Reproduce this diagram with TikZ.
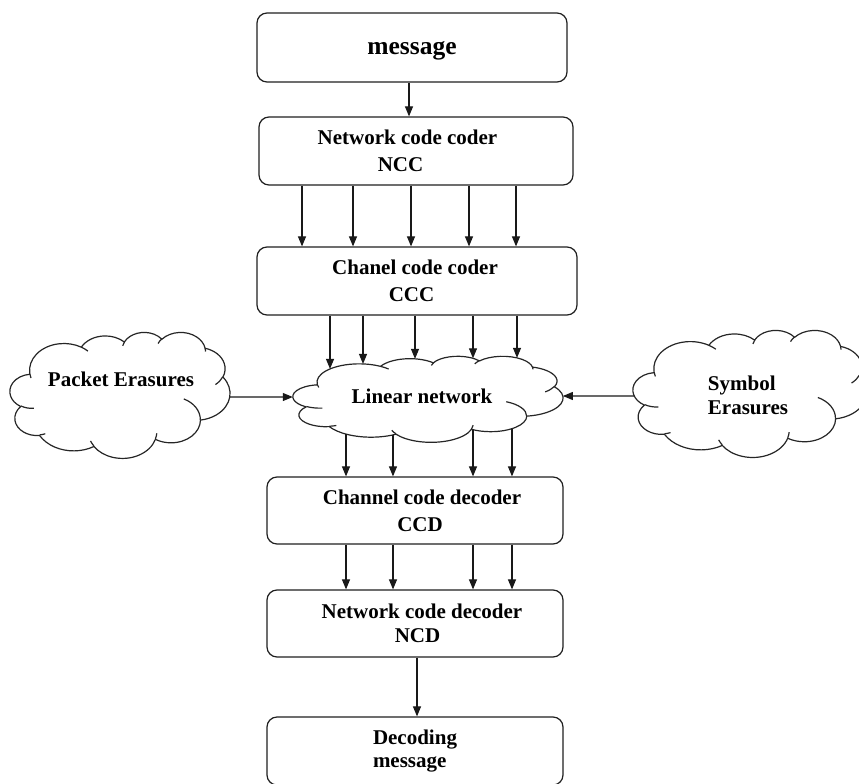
\documentclass[tikz,border=0pt]{standalone}
\usepackage{fontspec}
\setmainfont{Liberation Serif}
\usetikzlibrary{arrows.meta,intersections}

% one arc of an office-style cloud (radii, visual start angle, sweep)
\newcommand\carc[4]{arc[x radius=#1, y radius=#2,
  start angle={atan2((#1)*sin(#3),(#2)*cos(#3))},
  delta angle={mod(atan2((#1)*sin((#3)+(#4)),(#2)*cos((#3)+(#4)))-atan2((#1)*sin(#3),(#2)*cos(#3))+720,360)}]}

\newcommand\cloudoutline{(390.0,1437.0)
  \carc{675.3}{919.0}{-190.4875}{123.7805}
  \carc{533.3}{726.7}{-144.1024}{89.9452}
  \carc{436.5}{594.5}{-145.8079}{99.7230}
  \carc{485.7}{659.5}{-130.9861}{117.2417}
  \carc{533.3}{727.3}{-78.7089}{109.0269}
  \carc{677.5}{922.0}{-46.2673}{130.2690}
  \carc{578.5}{786.7}{0.6250}{114.0333}
  \carc{675.2}{921.5}{22.4516}{115.1726}
  \carc{772.0}{1054.3}{66.2426}{75.7110}
  \carc{436.0}{591.8}{-274.9421}{146.7356}
  \carc{434.5}{594.5}{-246.8285}{152.5189} -- cycle}

\newcommand\cloudinner{
  (469.3,2617.7) \carc{434.5}{594.5}{86.742}{26.4295}
  (692.8,3489.9) \carc{436.0}{591.8}{73.6105}{11.4475}
  (1647.8,3909.0) \carc{675.2}{921.5}{137.6242}{14.0811}
  (2882.7,3475.1) \carc{675.2}{921.5}{6.4533}{15.9984}
  (3412.9,2295.4) \carc{578.5}{786.7}{-70.2924}{70.9174}
  (4179.8,1535.4) \carc{533.3}{727.3}{30.3180}{27.7515}
  (3832.4,542.6) \carc{485.7}{659.5}{-13.7443}{14.8604}
  (2907.8,395.2) \carc{485.7}{659.5}{-149.1815}{18.1959}
  (2214.1,472.0) \carc{436.5}{594.5}{-163.4943}{17.6881}
  (1400.0,519.2) \carc{675.3}{919.0}{-66.7070}{12.3194}
  (412.7,1578.9) \carc{675.3}{919.0}{157.6544}{11.8582}}

\begin{document}
\begin{tikzpicture}[x=1pt,y=-1pt,
  line/.style={draw=black!88, line width=1.2pt},
  box/.style={line, rounded corners=10pt, inner sep=0pt, align=center,
    font=\bfseries\fontsize{21}{27}\selectfont},
  cloudline/.style={draw=black!85, line width=1.2pt, line join=round},
  cloudtext/.style={inner sep=0pt, font=\bfseries\fontsize{21}{24}\selectfont},
  arr/.style={draw=black!90, line width=1.1pt, -{Triangle[length=10pt,width=8pt]}}]
\useasboundingbox (0,0) rectangle (859,784);
\clip (0,0) rectangle (859,784);

% ---------- clouds ----------
\begin{scope}[shift={(10,332)}, x=0.050926pt, y=-0.029167pt]
  \draw[cloudline, fill=white, name path global=pec] \cloudoutline;
  \draw[cloudline] \cloudinner;
\end{scope}
\begin{scope}[shift={(293,356)}, x=0.0625pt, y=-0.019907pt]
  \draw[cloudline, fill=white, name path global=lnc] \cloudoutline;
  \draw[cloudline] \cloudinner;
\end{scope}
\begin{scope}[shift={(633,330)}, x=0.054167pt, y=-0.029398pt]
  \draw[cloudline, fill=white, name path global=sec] \cloudoutline;
  \draw[cloudline] \cloudinner;
\end{scope}

\node[cloudtext] (pe) at (121,379) {Packet Erasures};
\node[cloudtext] (ln) at (422,396) {Linear network};
\node[cloudtext, align=left] (se) at (748,395) {Symbol\\Erasures};

% ---------- boxes ----------
\node[box, minimum width=310, minimum height=69, text depth=0pt,
  font=\bfseries\fontsize{25.5}{30}\selectfont] (msg) at (412,47.5) {message};
\node[box, minimum width=314, minimum height=68] (ncc) at (416,151)
  {\hbox{Network code coder\kern17pt}\\\hbox{NCC\kern31pt}};
\node[box, minimum width=320, minimum height=68] (ccc) at (417,281)
  {\hbox{Chanel code coder\kern4pt}\\\hbox{CCC\kern11pt}};
\node[box, minimum width=296, minimum height=67] (ccd) at (415,510.5)
  {\hbox{\kern14pt Channel code decoder}\\\hbox{\kern10pt CCD}};
\node[box, minimum width=296, minimum height=67,
  font=\bfseries\fontsize{21}{23.5}\selectfont] (ncd) at (415,623.5)
  {\hbox{\kern14pt Network code decoder}\\\hbox{\kern5pt NCD}};
\node[box, minimum width=296, minimum height=68, align=left,
  font=\bfseries\fontsize{21}{22.5}\selectfont] (dec) at (415,751)
  {Decoding\\message};

% ---------- connectors ----------
\draw[arr] (msg.south -| 409,0) -- (ncc.north -| 409,0);
\foreach \x in {302,353,411,469,516}
  \draw[arr] (ncc.south -| \x,0) -- (ccc.north -| \x,0);

\foreach \x/\n in {330/1,363/2,415/3,473/4,517/5}{
  \path[name path=vt\n] (\x,320) -- (\x,400);
  \path[name intersections={of=lnc and vt\n, sort by=vt\n, by={lt\n}}];
  \draw[arr] (ccc.south -| lt\n) -- (lt\n);
}
\foreach \x/\n in {346/1,393/2,473/3,512/4}{
  \path[name path=vb\n] (\x,475) -- (\x,400);
  \path[name intersections={of=lnc and vb\n, sort by=vb\n, by={lb\n}}];
  \draw[arr] (lb\n) -- (ccd.north -| lb\n);
}
\foreach \x in {346,393,473,512}
  \draw[arr] (ccd.south -| \x,0) -- (ncd.north -| \x,0);
\draw[arr] (ncd.south -| 417,0) -- (dec.north -| 417,0);

% side arrows
\path[name path=hl1] (150,397) -- (290,397);
\path[name intersections={of=pec and hl1, sort by=hl1, by={pr}}];
\path[name path=hl2] (240,397) -- (380,397);
\path[name intersections={of=lnc and hl2, sort by=hl2, by={ll}}];
\draw[arr] (pr) -- (ll);
\path[name path=hr1] (720,396) -- (580,396);
\path[name intersections={of=sec and hr1, sort by=hr1, by={sl}}];
\path[name path=hr2] (610,396) -- (480,396);
\path[name intersections={of=lnc and hr2, sort by=hr2, by={lr}}];
\draw[arr] (sl) -- (lr);
\end{tikzpicture}
\end{document}
